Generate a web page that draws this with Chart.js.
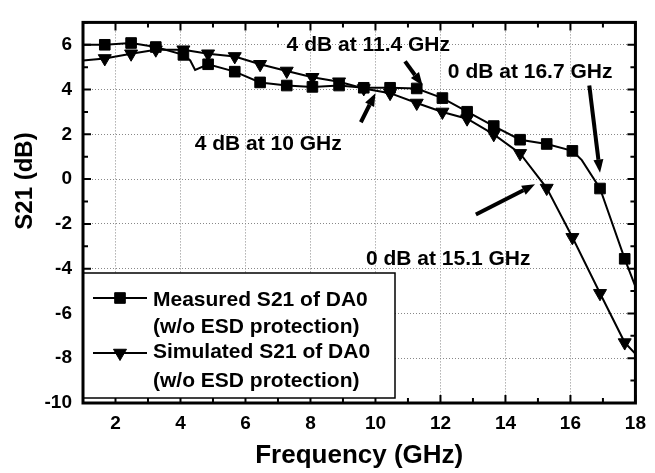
<!DOCTYPE html>
<html>
<head>
<meta charset="utf-8">
<script src="https://cdn.jsdelivr.net/npm/chart.js@4.4.1/dist/chart.umd.min.js"></script>
<style>
  html, body { margin: 0; padding: 0; background: #fff; }
  #wrap { width: 655px; height: 473px; position: relative; }
</style>
</head>
<body>
<div id="wrap"><canvas id="s21Chart"></canvas></div>
<script>
const FONT = '"Liberation Sans", Arial, Helvetica, sans-serif';

// frequencies of the symbols (GHz)
const markerFreq = [1.67, 2.48, 3.24, 4.09, 4.85, 5.67, 6.45, 7.27, 8.06, 8.88, 9.64, 10.45, 11.27, 12.06, 12.82, 13.64, 14.45, 15.27, 16.06, 16.91, 17.67];
const measuredS21 = [6.0, 6.08, 5.9, 5.55, 5.13, 4.8, 4.32, 4.18, 4.12, 4.18, 4.08, 4.08, 4.05, 3.62, 3.01, 2.37, 1.76, 1.57, 1.26, -0.42, -3.56];
const simulatedS21 = [5.39, 5.6, 5.78, 5.78, 5.6, 5.48, 5.13, 4.83, 4.55, 4.35, 4.05, 3.84, 3.4, 3.0, 2.7, 2.0, 1.15, -0.4, -2.6, -5.1, -7.3];

// trace points without a symbol
const measuredExtraFreq = [1.0, 4.3, 4.45, 16.35, 18.0];
const measuredExtraS21 = [6.0, 5.3, 4.88, 0.85, -4.8];
const simulatedExtraFreq = [1.0, 18.0];
const simulatedExtraS21 = [5.3, -7.8];

// notes and arrows (in GHz / dB)
const noteText = ['4 dB at 11.4 GHz', '0 dB at 16.7 GHz', '4 dB at 10 GHz', '0 dB at 15.1 GHz'];
const noteFreq = [9.78, 14.76, 6.70, 12.24];
const noteS21 = [6.0, 4.79, 1.54, -3.56];
const arrowFrom = [[10.91, 5.26], [16.58, 4.18], [9.55, 2.54], [13.09, -1.58]];
const arrowTo = [[11.45, 4.18], [16.91, 0.29], [10.0, 3.84], [14.91, -0.23]];

const legendLines = [
  ['Measured S21 of DA0', '(w/o ESD protection)'],
  ['Simulated S21 of DA0', '(w/o ESD protection)']
];

function buildPoints(freq, vals, extraF, extraV) {
  const pts = freq.map((f, i) => ({ x: f, y: vals[i], m: true }));
  extraF.forEach((f, i) => pts.push({ x: f, y: extraV[i], m: false }));
  return pts.sort((a, b) => a.x - b.x);
}

const markRadius = c => (c.raw && c.raw.m ? 7.5 : 0);

function drawArrow(ctx, x1, y1, x2, y2) {
  const ang = Math.atan2(y2 - y1, x2 - x1);
  const head = 13, half = 5;
  const bx = x2 - head * Math.cos(ang), by = y2 - head * Math.sin(ang);
  ctx.lineWidth = 4;
  ctx.beginPath();
  ctx.moveTo(x1, y1);
  ctx.lineTo(bx, by);
  ctx.stroke();
  ctx.beginPath();
  ctx.moveTo(x2, y2);
  ctx.lineTo(bx + half * Math.sin(ang), by - half * Math.cos(ang));
  ctx.lineTo(bx - half * Math.sin(ang), by + half * Math.cos(ang));
  ctx.closePath();
  ctx.fill();
}

const framePlugin = {
  id: 'frame',
  afterDatasetsDraw(chart) {
    const { ctx, chartArea: a, scales: { x, y } } = chart;
    ctx.save();
    ctx.strokeStyle = '#000';
    ctx.fillStyle = '#000';

    // inward ticks on all four sides
    ctx.lineWidth = 2;
    ctx.beginPath();
    for (let v = Math.ceil(x.min); v <= x.max; v++) {
      const px = x.getPixelForValue(v);
      const len = v % 2 === 0 ? 8 : 5;
      ctx.moveTo(px, a.bottom); ctx.lineTo(px, a.bottom - len);
      ctx.moveTo(px, a.top); ctx.lineTo(px, a.top + len);
    }
    for (let v = Math.ceil(y.min); v <= y.max; v++) {
      const py = y.getPixelForValue(v);
      const len = v % 2 === 0 ? 8 : 5;
      ctx.moveTo(a.left, py); ctx.lineTo(a.left + len, py);
      ctx.moveTo(a.right, py); ctx.lineTo(a.right - len, py);
    }
    ctx.stroke();

    // legend box
    const lx = a.left, ly = 273, lw = 312, lh = 125;
    ctx.fillStyle = '#fff';
    ctx.fillRect(lx, ly, lw, lh);
    ctx.lineWidth = 1.5;
    ctx.strokeRect(lx, ly, lw, lh);
    ctx.fillStyle = '#000';
    const styles = [{ pointStyle: 'rect', rotation: 0 }, { pointStyle: 'triangle', rotation: 180 }];
    const sampleY = [298, 353];
    const baseY = [[306, 333], [358, 387]];
    ctx.font = 'bold 21px ' + FONT;
    ctx.textAlign = 'left';
    ctx.textBaseline = 'alphabetic';
    styles.forEach((s, i) => {
      ctx.lineWidth = 2;
      ctx.beginPath();
      ctx.moveTo(lx + 10, sampleY[i]);
      ctx.lineTo(lx + 64, sampleY[i]);
      ctx.stroke();
      ctx.lineWidth = 1;
      Chart.helpers.drawPoint(ctx, { pointStyle: s.pointStyle, rotation: s.rotation, radius: 7.5, borderWidth: 1 }, lx + 37, sampleY[i]);
      legendLines[i].forEach((t, k) => ctx.fillText(t, lx + 70, baseY[i][k]));
    });

    // frame
    ctx.lineWidth = 3;
    ctx.strokeRect(a.left, a.top, a.right - a.left, a.bottom - a.top);

    // notes
    ctx.font = 'bold 21px ' + FONT;
    ctx.textAlign = 'center';
    ctx.textBaseline = 'middle';
    noteText.forEach((t, i) => {
      ctx.fillText(t, x.getPixelForValue(noteFreq[i]), y.getPixelForValue(noteS21[i]));
    });
    arrowFrom.forEach((p, i) => {
      drawArrow(ctx, x.getPixelForValue(p[0]), y.getPixelForValue(p[1]),
        x.getPixelForValue(arrowTo[i][0]), y.getPixelForValue(arrowTo[i][1]));
    });

    // y axis title
    ctx.save();
    ctx.translate(25, 181);
    ctx.rotate(-Math.PI / 2);
    ctx.font = 'bold 24px ' + FONT;
    ctx.fillText('S21 (dB)', 0, 0);
    ctx.restore();

    ctx.restore();
  }
};

const ctx = document.getElementById('s21Chart').getContext('2d');

const s21Chart = new Chart(ctx, {
  type: 'line',
  data: {
    datasets: [
      {
        label: 'Measured S21 of DA0 (w/o ESD protection)',
        data: buildPoints(markerFreq, measuredS21, measuredExtraFreq, measuredExtraS21),
        borderColor: '#000',
        backgroundColor: '#000',
        borderWidth: 2,
        pointStyle: 'rect',
        pointRadius: markRadius,
        pointBorderWidth: 1,
        tension: 0
      },
      {
        label: 'Simulated S21 of DA0 (w/o ESD protection)',
        data: buildPoints(markerFreq, simulatedS21, simulatedExtraFreq, simulatedExtraS21),
        borderColor: '#000',
        backgroundColor: '#000',
        borderWidth: 2,
        pointStyle: 'triangle',
        pointRotation: 180,
        pointRadius: markRadius,
        pointBorderWidth: 1,
        tension: 0
      }
    ]
  },
  options: {
    responsive: true,
    maintainAspectRatio: false,
    animation: false,
    events: [],
    layout: { padding: { top: 10, right: 11, left: 0, bottom: 0 } },
    scales: {
      x: {
        type: 'linear',
        min: 1,
        max: 18,
        afterFit: s => { s.height = 70; },
        ticks: {
          stepSize: 2,
          includeBounds: false,
          color: '#000',
          padding: 9,
          maxRotation: 0,
          font: { family: FONT, size: 19, weight: 'bold' }
        },
        grid: { color: '#888', lineWidth: 1, drawTicks: false },
        border: { display: false, dash: [1, 2] },
        title: {
          display: true,
          text: 'Frequency (GHz)',
          color: '#000',
          padding: { top: 0, bottom: 2 },
          font: { family: FONT, size: 26, weight: 'bold' }
        }
      },
      y: {
        min: -10,
        max: 7,
        afterFit: s => { s.width = 83; },
        ticks: {
          stepSize: 2,
          includeBounds: false,
          color: '#000',
          padding: 11,
          font: { family: FONT, size: 19, weight: 'bold' }
        },
        grid: { color: '#888', lineWidth: 1, drawTicks: false },
        border: { display: false, dash: [1, 2] }
      }
    },
    plugins: {
      legend: { display: false },
      tooltip: { enabled: false }
    }
  },
  plugins: [framePlugin]
});
</script>
</body>
</html>
